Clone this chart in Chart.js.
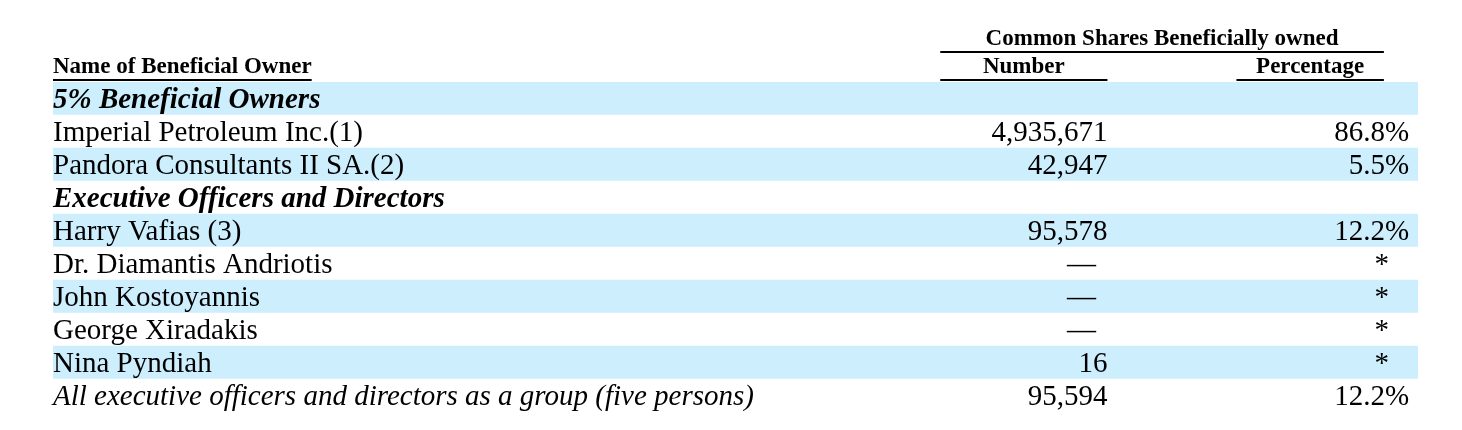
<!DOCTYPE html>
<html lang="en">
<head>
  <meta charset="UTF-8">
  <title>Common Shares Beneficially Owned</title>
  <script src="https://cdn.jsdelivr.net/npm/chart.js"></script>
  <style>
    html, body {
      margin: 0;
      padding: 0;
      background: #ffffff;
    }
    .chart-container {
      width: 1462px;
      height: 430px;
      position: relative;
    }
  </style>
</head>
<body>

  <div class="chart-container">
    <canvas id="ownershipChart"></canvas>
  </div>

  <script>
    // table content, one entry per row
    const owners = [
      '5% Beneficial Owners',
      'Imperial Petroleum Inc.(1)',
      'Pandora Consultants II SA.(2)',
      'Executive Officers and Directors',
      'Harry Vafias (3)',
      'Dr. Diamantis Andriotis',
      'John Kostoyannis',
      'George Xiradakis',
      'Nina Pyndiah',
      'All executive officers and directors as a group (five persons)'
    ];
    const shareNumbers = ['', '4,935,671', '42,947', '', '95,578', '—', '—', '—', '16', '95,594'];
    const sharePercents = ['', '86.8%', '5.5%', '', '12.2%', '*', '*', '*', '*', '12.2%'];
    const rowKinds = ['section', 'item', 'item', 'section', 'item', 'item', 'item', 'item', 'item', 'total'];

    const headerGroup = 'Common Shares Beneficially owned';
    const headerName = 'Name of Beneficial Owner';
    const headerNumber = 'Number';
    const headerPercent = 'Percentage';

    // column anchors as fractions of the x scale (0 = left edge, 1 = right edge)
    const cols = {
      numberRight: 0.7725,
      dashCenter: 0.7535,
      percentRight: 0.9935,
      starCenter: 0.9735,
      groupFrom: 0.650,
      groupTo: 0.975,
      numberFrom: 0.650,
      numberTo: 0.7725,
      percentFrom: 0.867,
      percentTo: 0.975
    };

    const SERIF = "'Liberation Serif', 'Times New Roman', serif";
    const stripe = '#cceefd';

    const tableText = {
      id: 'tableText',
      afterDatasetsDraw(chart) {
        const { ctx, chartArea } = chart;
        const x = chart.scales.x;
        const y = chart.scales.y;
        const px = v => x.getPixelForValue(v);
        ctx.save();
        ctx.fillStyle = '#000';
        ctx.strokeStyle = '#000';
        ctx.textBaseline = 'alphabetic';

        // header
        const top = chartArea.top;
        ctx.font = 'bold 23px ' + SERIF;
        ctx.textAlign = 'center';
        ctx.fillText(headerGroup, (px(cols.groupFrom) + px(cols.groupTo)) / 2, top - 37);
        ctx.fillText(headerNumber, (px(cols.numberFrom) + px(cols.numberTo)) / 2, top - 9);
        ctx.fillText(headerPercent, (px(cols.percentFrom) + px(cols.percentTo)) / 2, top - 9);
        ctx.textAlign = 'left';
        ctx.fillText(headerName, px(0), top - 9);
        const nameW = ctx.measureText(headerName).width;

        ctx.lineWidth = 2;
        const rule = (a, b, yy) => {
          ctx.beginPath();
          ctx.moveTo(a, yy);
          ctx.lineTo(b, yy);
          ctx.stroke();
        };
        rule(px(cols.groupFrom), px(cols.groupTo), top - 30);
        rule(px(cols.numberFrom), px(cols.numberTo), top - 2);
        rule(px(cols.percentFrom), px(cols.percentTo), top - 2);
        rule(px(0), px(0) + nameW, top - 2);

        // rows
        owners.forEach((name, i) => {
          const base = y.getPixelForValue(i) + 9;
          const kind = rowKinds[i];
          if (kind === 'section') ctx.font = 'italic bold 29px ' + SERIF;
          else if (kind === 'total') ctx.font = 'italic 29px ' + SERIF;
          else ctx.font = '29px ' + SERIF;
          ctx.textAlign = 'left';
          ctx.fillText(name, px(0), base);

          ctx.font = '29px ' + SERIF;
          const num = shareNumbers[i];
          if (num === '—') {
            ctx.textAlign = 'center';
            ctx.fillText(num, px(cols.dashCenter), base);
          } else if (num) {
            ctx.textAlign = 'right';
            ctx.fillText(num, px(cols.numberRight), base);
          }
          const pct = sharePercents[i];
          if (pct === '*') {
            ctx.textAlign = 'center';
            ctx.fillText(pct, px(cols.starCenter), base);
          } else if (pct) {
            ctx.textAlign = 'right';
            ctx.fillText(pct, px(cols.percentRight), base);
          }
        });
        ctx.restore();
      }
    };

    const ctx = document.getElementById('ownershipChart').getContext('2d');
    new Chart(ctx, {
      type: 'bar',
      data: {
        labels: owners,
        datasets: [{
          label: 'rows',
          data: owners.map(() => [0, 1]),
          backgroundColor: owners.map((_, i) => i % 2 === 0 ? stripe : '#ffffff'),
          borderWidth: 0,
          barPercentage: 1,
          categoryPercentage: 1
        }]
      },
      options: {
        indexAxis: 'y',
        responsive: true,
        maintainAspectRatio: false,
        animation: false,
        layout: {
          padding: { left: 53, right: 44, top: 82, bottom: 18 }
        },
        scales: {
          x: { type: 'linear', min: 0, max: 1, display: false },
          y: { type: 'category', display: false }
        },
        plugins: {
          legend: { display: false },
          tooltip: { enabled: false },
          title: { display: false }
        },
        events: []
      },
      plugins: [tableText]
    });
  </script>

</body>
</html>
